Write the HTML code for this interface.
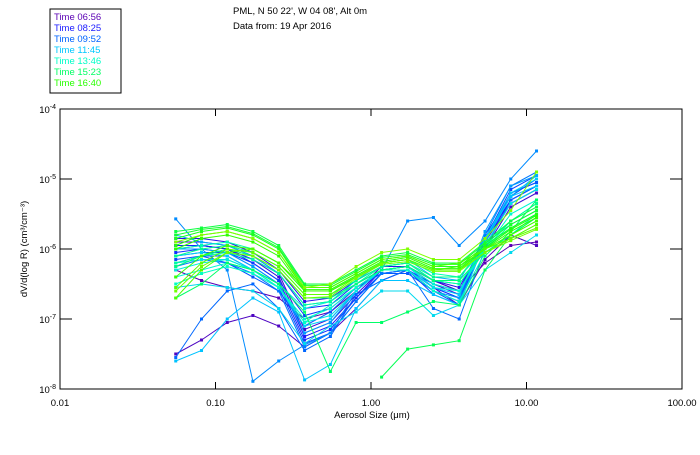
<!DOCTYPE html>
<html><head><meta charset="utf-8"><style>
body{margin:0;background:#fff;width:700px;height:450px;overflow:hidden;font-family:"Liberation Sans",sans-serif}
svg text{font-family:"Liberation Sans",sans-serif;font-size:9.5px}
</style></head><body>
<svg id="chart" width="700" height="450" xmlns="http://www.w3.org/2000/svg">
<text x="233" y="14">PML, N 50 22', W 04 08', Alt 0m</text>
<text x="233" y="29">Data from: 19 Apr 2016</text>
<rect x="50" y="9" width="71" height="84" fill="none" stroke="#000"/>
<g id="legend"></g>
<g id="marks"></g>
<rect x="60" y="109" width="622" height="280" fill="none" stroke="#000"/>
<g id="axes"></g>
<text x="372" y="418" text-anchor="middle">Aerosol Size (μm)</text>
<text transform="translate(27,249) rotate(-90)" text-anchor="middle">dV/d(log R) (cm³/cm⁻³)</text>
</svg>
<script>
const legendTimes=["06:56","08:25","09:52","11:45","13:46","15:23","16:40"];
const legendColors=["#5a00b4","#1a1aff","#0064ff","#00c8ff","#00ffc8","#00ff64","#28ff00"];
const xTicks=[0.01,0.1,1,10,100];
const xTickLabels=["0.01","0.10","1.00","10.00","100.00"];
const yTicks=[-4,-5,-6,-7,-8];
const sizes=[0.0555,0.0813,0.119,0.174,0.255,0.374,0.548,0.802,1.17,1.72,2.52,3.69,5.41,7.92,11.6];
const series=[
[-6.3,-6.45,-6.55,-6.6,-6.7,-7.0,-6.9,-6.6,-6.3,-6.25,-6.45,-6.6,-6.2,-5.95,-5.9],
[-7.5,-7.3,-7.05,-6.95,-7.1,-7.4,-7.2,-6.85,-6.45,-6.3,-6.55,-6.8,-6.15,-5.8,-5.95],
[-5.9,-5.9,-5.95,-6.1,-6.35,-7.15,-7.0,-6.6,-6.25,-6.2,-6.45,-6.6,-6.0,-5.4,-5.2],
[-5.95,-5.95,-6.0,-6.15,-6.4,-7.2,-7.05,-6.65,-6.3,-6.25,-6.5,-6.65,-5.95,-5.35,-5.15],
[-5.85,-5.85,-5.9,-6.05,-6.3,-6.75,-6.7,-6.45,-6.25,-6.25,-6.45,-6.55,-5.9,-5.35,-5.15],
[-6.0,-5.95,-6.0,-6.2,-6.45,-7.25,-7.1,-6.7,-6.3,-6.3,-6.55,-6.7,-5.9,-5.3,-5.1],
[-5.95,-5.95,-6.0,-6.15,-6.35,-6.85,-6.8,-6.5,-6.3,-6.3,-6.5,-6.6,-5.85,-5.3,-5.1],
[-6.05,-6.0,-6.05,-6.25,-6.5,-7.3,-7.15,-6.7,-6.35,-6.3,-6.6,-6.75,-5.85,-5.2,-5.05],
[-6.1,-6.05,-6.05,-6.2,-6.45,-6.95,-6.85,-6.55,-6.3,-6.25,-6.55,-6.7,-5.8,-5.25,-5.0],
[-6.15,-6.1,-6.1,-6.3,-6.55,-7.35,-7.2,-6.75,-6.35,-6.3,-6.65,-6.8,-5.85,-5.15,-4.95],
[-6.2,-6.1,-6.2,-6.4,-6.6,-7.1,-6.9,-6.55,-6.35,-6.35,-6.6,-6.8,-5.9,-5.2,-5.05],
[-7.55,-7.0,-6.6,-6.5,-6.85,-7.45,-7.25,-6.65,-6.45,-6.3,-6.85,-7.0,-6.0,-5.3,-5.1],
[-6.25,-6.15,-6.2,-6.35,-6.6,-7.4,-7.2,-6.75,-6.35,-6.3,-6.6,-6.75,-5.8,-5.1,-4.9],
[-5.57,-6.0,-6.3,-7.89,-7.6,-7.37,-7.2,-6.6,-6.3,-5.6,-5.55,-5.95,-5.6,-5.0,-4.6],
[-6.0,-6.0,-6.05,-6.25,-6.5,-7.2,-7.05,-6.6,-6.3,-6.3,-6.6,-6.7,-5.75,-5.1,-4.95],
[-5.8,-5.9,-5.95,-6.1,-6.35,-6.8,-6.75,-6.45,-6.2,-6.15,-6.4,-6.45,-5.85,-5.25,-4.95],
[-7.6,-7.45,-7.0,-6.7,-6.9,-7.87,-7.65,-6.85,-6.45,-6.45,-6.65,-6.8,-5.9,-5.25,-5.1],
[-6.1,-6.05,-6.1,-6.3,-6.55,-7.1,-7.0,-6.6,-6.3,-6.3,-6.55,-6.65,-5.85,-5.2,-5.0],
[-6.55,-6.5,-6.55,-6.6,-6.85,-7.35,-7.1,-6.9,-6.6,-6.6,-6.95,-6.8,-6.3,-6.05,-5.8],
[-6.2,-6.15,-6.15,-6.3,-6.55,-7.05,-6.95,-6.6,-6.3,-6.25,-6.55,-6.6,-5.95,-5.35,-5.15],
[-6.3,-6.2,-6.15,-6.3,-6.5,-6.85,-6.75,-6.5,-6.25,-6.2,-6.45,-6.5,-6.0,-5.6,-5.35],
[-6.4,-6.3,-6.2,-6.3,-6.55,-7.0,-6.85,-6.55,-6.3,-6.25,-6.5,-6.6,-6.0,-5.5,-5.3],
[-6.5,-6.35,-6.25,-6.35,-6.55,-7.05,-6.8,-6.55,-6.3,-6.3,-6.6,-6.75,-6.05,-5.8,-5.5],
[-6.0,-5.95,-5.9,-6.0,-6.2,-6.6,-6.6,-6.4,-6.2,-6.15,-6.35,-6.4,-6.0,-5.7,-5.5],
[-6.2,-6.1,-6.05,-6.15,-6.35,-6.8,-6.75,-6.5,-6.25,-6.2,-6.45,-6.5,-6.0,-5.65,-5.45],
[-6.1,-6.0,-5.95,-6.05,-6.25,-6.65,-6.65,-6.45,-6.25,-6.2,-6.4,-6.4,-5.95,-5.6,-5.35],
[-6.25,-6.1,-6.0,-6.1,-6.3,-6.7,-6.7,-6.5,-6.3,-6.25,-6.45,-6.45,-6.05,-5.8,-5.55],
[-6.7,-6.5,-6.2,-6.3,-6.5,-6.9,-7.75,-7.05,-7.05,-6.9,-6.75,-6.8,-6.1,-5.75,-5.3],
[null,null,null,null,null,null,null,null,-7.83,-7.43,-7.37,-7.31,-6.3,-5.8,-5.55],
[-5.75,-5.7,-5.65,-5.75,-5.95,-6.5,-6.5,-6.3,-6.1,-6.05,-6.2,-6.2,-5.9,-5.6,-5.4],
[-5.8,-5.72,-5.68,-5.78,-5.98,-6.52,-6.52,-6.32,-6.12,-6.08,-6.22,-6.22,-5.92,-5.65,-5.45],
[-5.85,-5.75,-5.7,-5.8,-6.0,-6.55,-6.55,-6.35,-6.15,-6.1,-6.25,-6.25,-5.95,-5.7,-5.5],
[-5.95,-5.8,-5.75,-5.85,-6.05,-6.58,-6.58,-6.38,-6.18,-6.12,-6.28,-6.28,-5.98,-5.72,-5.52],
[-6.0,-5.85,-5.8,-5.9,-6.1,-6.6,-6.6,-6.4,-6.2,-6.15,-6.3,-6.3,-6.0,-5.75,-5.55],
[-6.4,-6.1,-5.95,-6.0,-6.2,-6.6,-6.6,-6.4,-6.2,-6.15,-6.3,-6.25,-6.0,-5.8,-5.6],
[-6.7,-6.3,-6.05,-6.0,-6.2,-6.55,-6.55,-6.35,-6.15,-6.1,-6.25,-6.2,-6.0,-5.85,-5.65],
[-6.55,-6.2,-6.0,-6.05,-6.25,-6.65,-6.65,-6.4,-6.2,-6.15,-6.3,-6.3,-6.05,-5.85,-5.7],
[-6.6,-6.25,-6.05,-6.1,-6.3,-6.7,-6.68,-6.42,-6.22,-6.18,-6.32,-6.32,-6.05,-5.88,-5.72],
[-5.9,-5.8,-5.75,-5.85,-6.05,-6.55,-6.5,-6.25,-6.05,-6.0,-6.15,-6.15,-5.85,-5.45,-4.9]
];
const NS="http://www.w3.org/2000/svg";
const X0=60,X1=682,Y0=109,Y1=389;
function xs(v){return X0+(Math.log10(v)+2)/4*(X1-X0);}
function ys(l){return Y0+(-4-l)/4*(Y1-Y0);}
function mk(t,a,p){const e=document.createElementNS(NS,t);for(const k in a)e.setAttribute(k,a[k]);p.appendChild(e);return e;}
const pal=[[90,0,180],[26,26,255],[0,100,255],[0,200,255],[0,255,200],[0,255,100],[40,255,0],[128,255,0]];
function col(f){const p=f*(pal.length-1),i=Math.min(Math.floor(p),pal.length-2),r=p-i;const c=pal[i].map((v,k)=>Math.round(v+(pal[i+1][k]-v)*r));return `rgb(${c[0]},${c[1]},${c[2]})`;}
const lg=document.getElementById('legend');
legendTimes.forEach((t,i)=>{const e=mk('text',{x:54,y:20+i*11,fill:legendColors[i]},lg);e.textContent="Time "+t;

});
const ax=document.getElementById('axes');
xTicks.forEach((v,i)=>{const x=xs(v);
if(i>0&&i<xTicks.length-1){const a=mk('line',{x1:x,x2:x,y1:Y1,y2:Y1-7,stroke:'#000'},ax);
const b=mk('line',{x1:x,x2:x,y1:Y0,y2:Y0+7,stroke:'#000'},ax);}
const t=mk('text',{x:x,y:406,'text-anchor':'middle'},ax);t.textContent=xTickLabels[i];

});
yTicks.forEach((l,i)=>{const y=ys(l);
if(i>0&&i<yTicks.length-1){const a=mk('line',{x1:X0,x2:X0+12,y1:y,y2:y,stroke:'#000'},ax);
const b=mk('line',{x1:X1-12,x2:X1,y1:y,y2:y,stroke:'#000'},ax);}
const t=mk('text',{x:56,y:y+4,'text-anchor':'end'},ax);t.innerHTML='10<tspan dy="-4" font-size="7">'+l+'</tspan>';

});
const mg=document.getElementById('marks');
series.forEach((s,si)=>{const c=col(si/(series.length-1));
const g=mk('g',{},mg);


const pts=[];s.forEach((l,i)=>{if(l!==null)pts.push([xs(sizes[i]),ys(l)]);});
const pl=mk('polyline',{points:pts.map(p=>p.join(',')).join(' '),fill:'none',stroke:c,'stroke-width':1},g);


pts.forEach(p=>{const r=mk('rect',{x:p[0]-1.5,y:p[1]-1.5,width:3,height:3,fill:c},g);

});});
</script>
</body></html>
